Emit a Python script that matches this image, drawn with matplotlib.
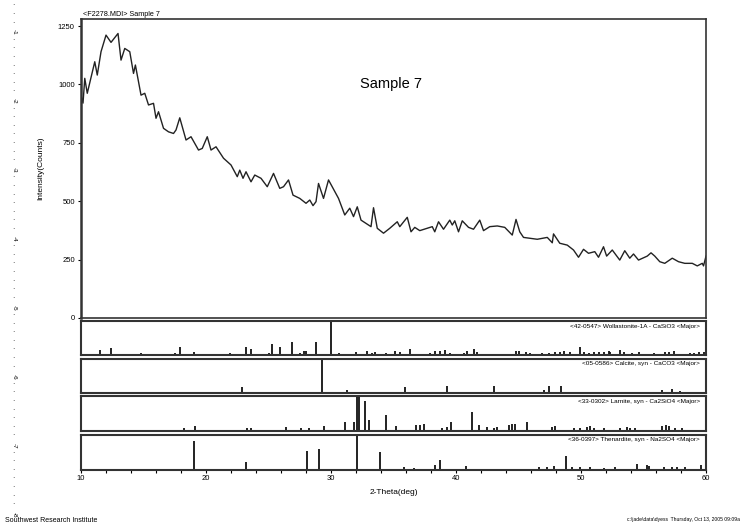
import matplotlib.pyplot as plt

# measured pattern (2-theta deg, counts)
theta = [10.0, 10.16, 10.3, 10.5, 11.1, 11.3, 11.6, 12.0, 12.4, 12.96, 13.2, 13.5, 13.9, 14.2,
         14.35, 14.8, 15.1, 15.4, 15.8, 16.0, 16.2, 16.6, 17.0, 17.4, 17.6, 17.9, 18.4, 18.8,
         19.4, 19.7, 20.1, 20.4, 20.8, 21.4, 22.0, 22.5, 22.7, 22.96, 23.2, 23.6, 23.9, 24.4,
         24.9, 25.4, 25.9, 26.2, 26.6, 26.96, 27.5, 28.0, 28.3, 28.56, 28.8, 29.0, 29.4, 29.8,
         30.3, 30.6, 31.1, 31.5, 31.8, 32.1, 32.4, 32.8, 33.2, 33.4, 33.7, 34.2, 34.7, 35.3,
         35.5, 36.1, 36.4, 36.7, 37.1, 37.7, 38.1, 38.3, 38.6, 39.0, 39.5, 39.7, 39.9, 40.2,
         40.5, 41.0, 41.4, 41.9, 42.2, 42.7, 43.3, 43.9, 44.5, 44.8, 45.1, 45.4, 46.5, 47.3,
         47.7, 47.8, 48.3, 48.9, 49.4, 49.8, 50.2, 50.6, 51.1, 51.4, 51.8, 52.05, 52.5, 53.1,
         53.5, 53.9, 54.2, 54.6, 55.3, 55.6, 55.9, 56.3, 56.7, 57.3, 57.8, 58.3, 58.9, 59.3,
         59.7, 59.8, 60.0]
counts = [954, 920, 1026, 962, 1097, 1040, 1140, 1211, 1180, 1218, 1104, 1154, 1140, 1047,
          1083, 954, 962, 912, 919, 855, 883, 812, 797, 790, 805, 857, 762, 776,
          719, 726, 776, 719, 733, 684, 655, 605, 633, 598, 626, 583, 612, 598,
          562, 619, 555, 562, 591, 526, 512, 491, 505, 481, 498, 576, 512, 591,
          541, 512, 441, 470, 434, 476, 419, 405, 391, 472, 384, 363, 384, 412,
          391, 431, 369, 388, 374, 384, 391, 369, 412, 380, 419, 398, 416, 369,
          416, 388, 380, 419, 374, 391, 394, 388, 355, 422, 369, 345, 337, 345,
          322, 360, 320, 312, 291, 260, 294, 277, 284, 260, 305, 265, 291, 248,
          288, 256, 274, 248, 265, 279, 265, 241, 234, 256, 241, 234, 234, 223,
          234, 223, 265]

# reference patterns (2-theta, relative intensity %)
woll_pos = [11.5, 12.4, 14.8, 17.5, 17.9, 19.0, 21.9, 23.2, 23.6, 25.0, 25.3, 25.9, 26.9, 27.5,
            27.8, 28.0, 28.8, 30.0, 30.6, 32.0, 32.9, 33.3, 33.5, 34.4, 35.1, 35.5, 36.3, 37.9,
            38.3, 38.7, 39.1, 39.5, 40.6, 40.9, 41.4, 41.7, 44.8, 45.0, 45.6, 45.9, 46.9, 47.4,
            47.9, 48.3, 48.6, 49.1, 49.9, 50.2, 50.6, 51.0, 51.4, 51.8, 52.2, 52.3, 53.1, 53.4,
            54.1, 54.6, 55.8, 56.7, 57.0, 57.4, 58.7, 59.0, 59.4, 59.8]
woll_int = [17, 22, 7, 7, 26, 10, 7, 26, 20, 7, 33, 24, 39, 7,
            12, 12, 39, 100, 7, 10, 14, 7, 10, 7, 12, 9, 20, 7,
            14, 14, 17, 7, 7, 12, 20, 10, 12, 12, 10, 7, 7, 7,
            9, 9, 12, 9, 24, 9, 7, 9, 10, 9, 14, 9, 17, 9,
            7, 9, 7, 9, 9, 12, 7, 7, 9, 9]

calc_pos = [22.9, 29.3, 31.3, 35.9, 39.3, 43.0, 47.0, 47.4, 48.4, 56.5, 57.3, 57.9]
calc_int = [17, 100, 9, 17, 20, 20, 9, 20, 20, 9, 12, 7]

larn_pos = [18.2, 19.1, 23.3, 23.6, 26.4, 27.6, 28.2, 29.4, 31.1, 31.8, 32.1, 32.2, 32.7, 33.0,
            34.4, 35.2, 36.8, 37.1, 37.4, 38.9, 39.3, 39.6, 41.3, 41.8, 42.5, 43.0, 43.3, 44.2,
            44.5, 44.7, 45.7, 47.7, 47.9, 49.4, 49.9, 50.5, 50.7, 51.0, 51.8, 53.1, 53.7, 53.9,
            54.3, 56.5, 56.8, 57.0, 57.5, 58.1]
larn_int = [8, 14, 10, 10, 13, 10, 10, 14, 26, 26, 100, 100, 86, 33,
            46, 14, 17, 17, 21, 8, 11, 26, 54, 19, 11, 8, 11, 19,
            21, 21, 27, 11, 14, 8, 10, 13, 14, 10, 8, 10, 11, 10,
            10, 14, 17, 14, 10, 10]

then_pos = [19.0, 23.2, 28.1, 29.0, 32.1, 33.9, 35.8, 36.6, 38.3, 38.7, 40.8, 46.6, 47.3, 47.8,
            48.8, 49.3, 49.9, 50.7, 51.8, 52.7, 54.5, 55.3, 55.4, 56.6, 57.3, 57.7, 58.3, 59.6]
then_int = [81, 22, 54, 60, 100, 50, 8, 5, 14, 29, 10, 8, 8, 10,
            38, 8, 8, 8, 5, 8, 17, 14, 10, 8, 8, 8, 8, 14]

phase_labels = ["<42-0547> Wollastonite-1A - CaSiO3 <Major>",
                "<05-0586> Calcite, syn - CaCO3 <Major>",
                "<33-0302> Larnite, syn - Ca2SiO4 <Major>",
                "<36-0397> Thenardite, syn - Na2SO4 <Major>"]

frame = "#333333"
fig = plt.figure(figsize=(7.46, 5.25), dpi=100)
plt.rcParams['font.family'] = ['Liberation Sans', 'DejaVu Sans']

# main pattern
ax = fig.add_axes([0.1086, 0.3943, 0.8378, 0.5695])
ax.plot(theta, counts, color="#222222", lw=1.0)
ax.set_xlim(10, 60)
ax.set_ylim(0, 1280)
ax.set_yticks([0, 250, 500, 750, 1000, 1250])
ax.set_yticklabels(["0", "250", "500", "750", "1000", "1250"], fontsize=5.5)
ax.set_xticks([])
ax.tick_params(axis="y", direction="out", length=2.5, width=0.8, pad=2)
for s in ax.spines.values():
    s.set_color(frame)
    s.set_linewidth(1.2)
ax.spines["left"].set_linewidth(1.8)
ax.set_ylabel("Intensity(Counts)", fontsize=6, labelpad=10)
ax.text(0.003, 1.004, "<F2278.MDI> Sample 7", transform=ax.transAxes, fontsize=5.2,
        ha="left", va="bottom")
ax.text(34.8, 1000, "Sample 7", fontsize=10.5, ha="center", va="center")

# stick patterns
panels = [(woll_pos, woll_int, 0.3229, 0.0648),
          (calc_pos, calc_int, 0.2514, 0.0653),
          (larn_pos, larn_int, 0.1785, 0.0667),
          (then_pos, then_int, 0.1053, 0.0667)]
for i, (pos, inten, bottom, height) in enumerate(panels):
    pax = fig.add_axes([0.1086, bottom, 0.8378, height])
    pax.vlines(pos, 0, inten, color="#111111", lw=1.3)
    pax.set_xlim(10, 60)
    pax.set_ylim(0, 100)
    pax.set_yticks([])
    for s in pax.spines.values():
        s.set_color(frame)
        s.set_linewidth(1.5)
    pax.text(0.99, 0.93, phase_labels[i], transform=pax.transAxes, fontsize=4.6,
             ha="right", va="top")
    if i < 3:
        pax.set_xticks([])
    else:
        pax.set_xticks([10, 20, 30, 40, 50, 60])
        pax.set_xticks(range(10, 61, 2), minor=True)
        pax.set_xticklabels(["10", "20", "30", "40", "50", "60"], fontsize=5.5)
        pax.tick_params(axis="x", which="both", direction="out", length=2, width=0.8, pad=2)
        pax.set_xlabel("2-Theta(deg)", fontsize=6, labelpad=5)

# page ruler on the left edge
label_y = [32 + (k - 1) * 69.0 for k in range(1, 9)]
for k, yy in enumerate(label_y, start=1):
    fig.text(14 / 746, 1 - yy / 525, "-" + str(k), fontsize=4.5, rotation=-90,
             ha="center", va="center")
for j in range(60):
    yy = 6 + j * 8.6
    if yy > 512 or min(abs(yy - ly) for ly in label_y) < 7:
        continue
    fig.text(13 / 746, 1 - yy / 525, "·", fontsize=5, ha="center", va="center")

fig.text(5 / 746, 1 - 521 / 525, "Southwest Research Institute", fontsize=5,
         ha="left", va="center")
fig.text(740 / 746, 1 - 520 / 525, "c:\\jade\\data\\dyess  Thursday, Oct 13, 2005 09:09a",
         fontsize=3.6, ha="right", va="center")

fig.savefig("out.png", dpi=100)
